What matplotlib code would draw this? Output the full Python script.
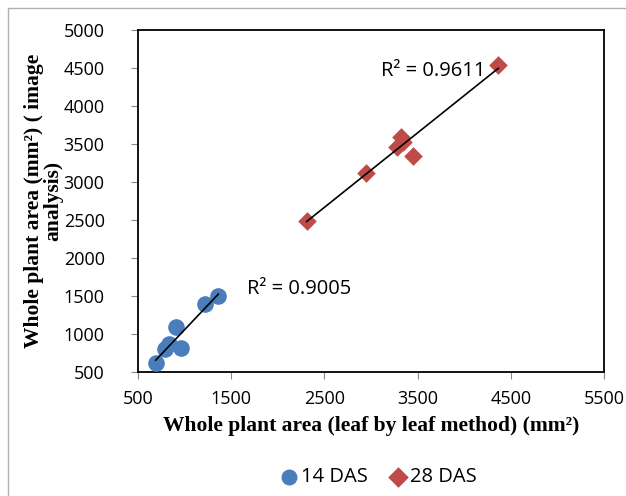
import numpy as np
import matplotlib
matplotlib.use('Agg')
import matplotlib.pyplot as plt
from matplotlib.patches import Rectangle

das14_x = [690, 790, 836, 904, 961, 1219, 1362]
das14_y = [614, 799, 868, 1096, 820, 1391, 1500]
das28_x = [2310, 2946, 3282, 3319, 3340, 3454, 4366]
das28_y = [2487, 3114, 3465, 3596, 3530, 3342, 4540]
xticks = [500, 1500, 2500, 3500, 4500, 5500]
yticks = [500, 1000, 1500, 2000, 2500, 3000, 3500, 4000, 4500, 5000]

blue = '#4a7ebb'
red = '#be4b48'

fig = plt.figure(figsize=(6.26, 4.96), dpi=100)
ax = fig.add_axes([138/626, 1-372/496, (604-138)/626, (372-30)/496])

# outer frame
fig.patches.append(Rectangle((8/626, -0.01), 1.0, 1-8/496+0.01, transform=fig.transFigure,
                             fill=False, edgecolor='#b0b0b0', linewidth=1))

ax.scatter(das14_x, das14_y, s=120, marker='o', color=blue, zorder=3, label='14 DAS')
ax.scatter(das28_x, das28_y, s=90, marker='D', color=red, zorder=3, label='28 DAS', linewidths=0)

def trend(xs, ys):
    xs = np.array(xs, float)
    ys = np.array(ys, float)
    m, b = np.polyfit(xs, ys, 1)
    xx = np.array([xs.min(), xs.max()])
    ax.plot(xx, m*xx+b, color='black', linewidth=1.2, zorder=4)

trend(das14_x, das14_y)
trend(das28_x, das28_y)

ax.text(1670, 1592, 'R² = 0.9005', fontsize=14.5, family='Open Sans', va='center')
ax.text(3107, 4464, 'R² = 0.9611', fontsize=14.5, family='Open Sans', va='center')

ax.set_xlim(500, 5500)
ax.set_ylim(500, 5000)
ax.set_xticks(xticks)
ax.set_yticks(yticks)
for lab in ax.get_xticklabels() + ax.get_yticklabels():
    lab.set_family('Open Sans')
    lab.set_fontsize(13)
ax.tick_params(direction='out', length=5, color='#888888')
ax.tick_params(axis='y', pad=19)
ax.tick_params(axis='x', pad=8)
for s in ax.spines.values():
    s.set_linewidth(1.3)

ax.set_xlabel('Whole plant area (leaf by leaf method) (mm²)', fontsize=15.5,
              fontweight='bold', family='Liberation Serif', labelpad=6)
ax.set_ylabel('Whole plant area (mm²) ( image\nanalysis)', fontsize=15.5,
              fontweight='bold', family='Liberation Serif', labelpad=0, linespacing=1.0)

leg = fig.legend(loc='center', bbox_to_anchor=(378/626, 1-477/496), ncol=2, frameon=False,
                 prop={'family': 'Open Sans', 'size': 14.5}, handletextpad=0.1,
                 columnspacing=1.0, handlelength=1.0)
for h in leg.legend_handles:
    h.set_sizes([110])

fig.savefig('out.png', dpi=100)
